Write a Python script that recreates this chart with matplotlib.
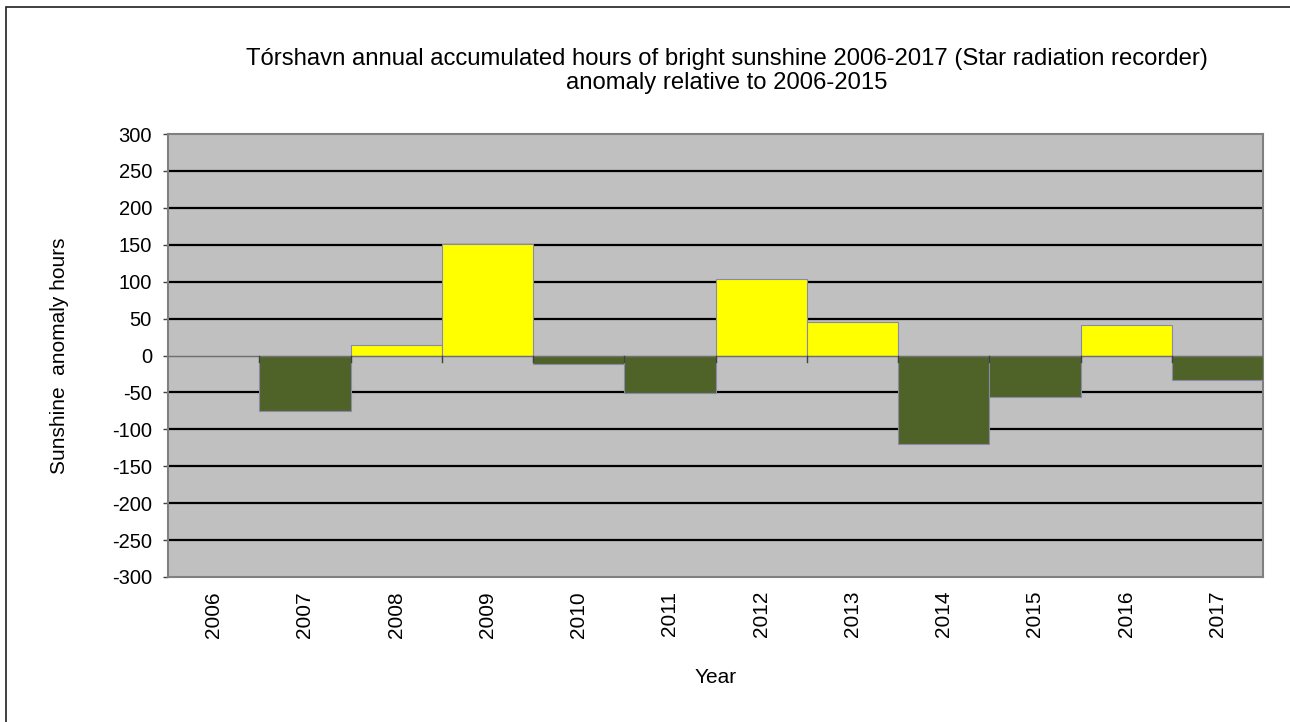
"""Torshavn sunshine anomaly bar chart"""
import numpy as np
import matplotlib
matplotlib.use('Agg')
import matplotlib.pyplot as plt
from matplotlib.patches import Rectangle

plt.rcParams['font.family'] = ['Liberation Sans', 'DejaVu Sans']

years = ['2006', '2007', '2008', '2009', '2010', '2011',
         '2012', '2013', '2014', '2015', '2016', '2017']
anomaly = [0, -75, 14, 151, -12, -51, 103, 46, -120, -56, 41, -33]
yticks = list(range(-300, 301, 50))

fig = plt.figure(figsize=(12.9, 7.22), dpi=100)
# outer chart border (right and bottom edges fall outside the image)
fig.patches.append(Rectangle((6/1290, -0.05), 1.1, 1 - 7/722 + 0.05, transform=fig.transFigure,
                             fill=False, edgecolor='#202020', linewidth=1.2))
ax = fig.add_axes([168/1290, 1 - 577/722, 1095/1290, 443/722])
ax.set_facecolor('#C0C0C0')

x = np.arange(len(years))
colors = ['#FFFF00' if v >= 0 else '#4F6228' for v in anomaly]
ax.bar(x, anomaly, width=1.0, color=colors, edgecolor='#8A8AA8', linewidth=0.8, zorder=3)

for y in yticks:
    if y in (-300, 0, 300):
        continue
    ax.axhline(y, color='black', linewidth=1.6, zorder=1)
ax.axhline(0, color='#707070', linewidth=1.0, zorder=4)

ax.set_xlim(-0.5, len(years) - 0.5)
ax.set_ylim(-300, 300)
ax.set_yticks(yticks)
ax.set_yticklabels([str(v) for v in yticks], fontsize=14.5)
ax.tick_params(axis='y', direction='out', length=3.6, width=1, color='#404040', pad=8)

# category boundary ticks on zero line
for b in np.arange(-0.5, len(years) - 0.5, 1.0)[1:]:
    ax.plot([b, b], [0, -9], color='#404040', linewidth=1, zorder=5)

ax.set_xticks(x)
ax.set_xticklabels(years, rotation=90, fontsize=15)
ax.tick_params(axis='x', length=0, pad=10)

for s in ax.spines.values():
    s.set_color('#808080')
    s.set_linewidth(1.5)

ax.set_xlabel('Year', fontsize=15, labelpad=22)
ax.set_ylabel('Sunshine  anomaly hours', fontsize=15, labelpad=31)

fig.text(727/1290, 1 - 59/722, 'Tórshavn annual accumulated hours of bright sunshine 2006-2017 (Star radiation recorder)',
         ha='center', va='center', fontsize=17.2)
fig.text(727/1290, 1 - 83/722, 'anomaly relative to 2006-2015', ha='center', va='center', fontsize=17.2)

fig.savefig('out.png', dpi=100)
